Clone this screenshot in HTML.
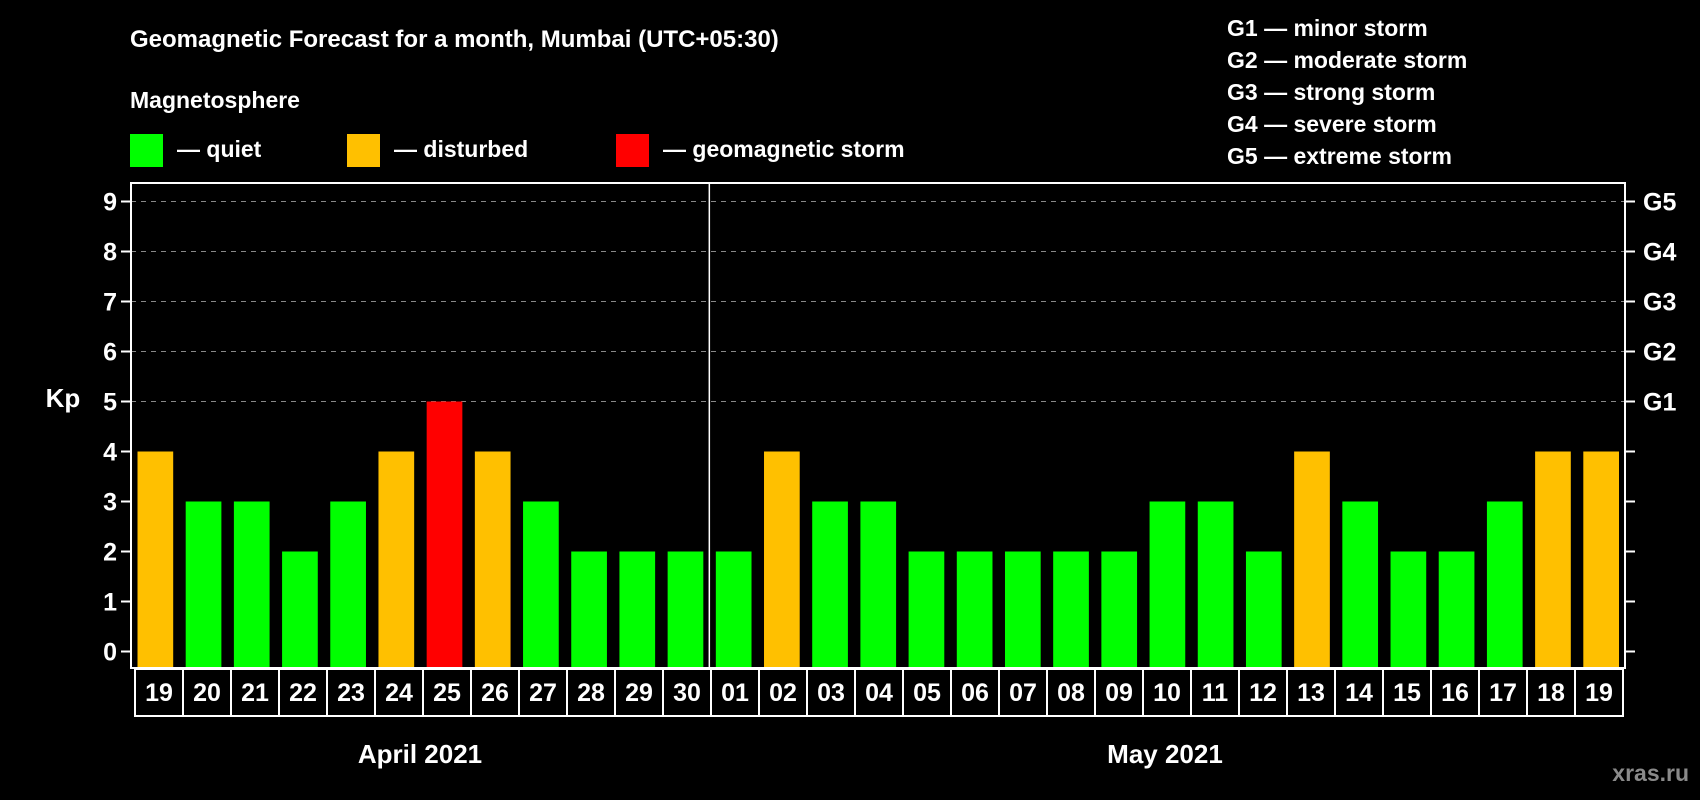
<!DOCTYPE html>
<html><head><meta charset="utf-8"><style>
html,body{margin:0;padding:0;background:#000;}
svg{display:block;font-family:"Liberation Sans",Arial,sans-serif;font-weight:bold;}
</style></head><body>
<svg id="chart" width="1700" height="800" viewBox="0 0 1700 800">
<text x="130" y="47" font-size="24" fill="#fff">Geomagnetic Forecast for a month, Mumbai (UTC+05:30)</text>
<text x="130" y="108" font-size="23" fill="#fff">Magnetosphere</text>
<rect x="130" y="134" width="33" height="33" fill="#00ff00"/>
<text x="177" y="157" font-size="23" fill="#fff">— quiet</text>
<rect x="347" y="134" width="33" height="33" fill="#ffc000"/>
<text x="394" y="157" font-size="23" fill="#fff">— disturbed</text>
<rect x="616" y="134" width="33" height="33" fill="#ff0000"/>
<text x="663" y="157" font-size="23" fill="#fff">— geomagnetic storm</text>
<g font-size="23" fill="#fff">
<text x="1227" y="36">G1 — minor storm</text>
<text x="1227" y="68">G2 — moderate storm</text>
<text x="1227" y="100">G3 — strong storm</text>
<text x="1227" y="132">G4 — severe storm</text>
<text x="1227" y="164">G5 — extreme storm</text>
</g>
<text x="63" y="407" font-size="26" fill="#fff" text-anchor="middle">Kp</text>
<text x="420" y="763" font-size="26" fill="#fff" text-anchor="middle">April 2021</text>
<text x="1165" y="763" font-size="26" fill="#fff" text-anchor="middle">May 2021</text>
<text x="1689" y="781" font-size="23" fill="#8a8a8a" text-anchor="end">xras.ru</text>
<g id="plot"></g>
</svg>
<script>
const days = ["19","20","21","22","23","24","25","26","27","28","29","30","01","02","03","04","05","06","07","08","09","10","11","12","13","14","15","16","17","18","19"];
const kpValues = [4,3,3,2,3,4,5,4,3,2,2,2,2,4,3,3,2,2,2,2,2,3,3,2,4,3,2,2,3,4,4];
const yTicks = [0,1,2,3,4,5,6,7,8,9];
const gLabels = ["G1","G2","G3","G4","G5"];
const L=131,R=1625,T=183,B=668;
const slot=(R-L)/days.length;
function y(v){return 651.5-v*50;}
function x(i){return L+i*slot;}
const NS="http://www.w3.org/2000/svg";
const g=document.getElementById('plot');
function mk(tag,attrs){const e=document.createElementNS(NS,tag);for(const k in attrs)e.setAttribute(k,attrs[k]);g.appendChild(e);return e;}
yTicks.forEach(v=>{
  if(v>=5){const gl=mk('line',{x1:L,x2:R,y1:y(v),y2:y(v),stroke:'#888','stroke-width':1,'stroke-dasharray':'5,5'});
  
  }
  const t1=mk('line',{x1:L-10,x2:L,y1:y(v),y2:y(v),stroke:'#fff','stroke-width':2});
  
  
  const t2=mk('line',{x1:R,x2:R+10,y1:y(v),y2:y(v),stroke:'#fff','stroke-width':2});
  
  
  const tl=mk('text',{x:L-14,y:y(v)+9,'font-size':25,fill:'#fff','text-anchor':'end'});
  tl.textContent=v;
  
  
});
gLabels.forEach((s,i)=>{
  const t=mk('text',{x:R+18,y:y(5+i)+9,'font-size':25,fill:'#fff'});
  t.textContent=s;
  
  
});
kpValues.forEach((v,i)=>{
  const c=v>=5?'#ff0000':(v>=4?'#ffc000':'#00ff00');
  const b=mk('rect',{x:x(i)+6.5,y:y(v),width:slot-12.5,height:B-y(v),fill:c});
  
  
});
const fr=mk('rect',{x:L,y:T,width:R-L,height:B-T,fill:'none',stroke:'#fff','stroke-width':2});


const sep=mk('line',{x1:x(12),x2:x(12),y1:T,y2:B,stroke:'#fff','stroke-width':1.5});


const cw=(1623-135)/days.length;
days.forEach((d,i)=>{
  const r=mk('rect',{x:135+i*cw,y:669,width:cw,height:47,fill:'none',stroke:'#fff','stroke-width':2});
  
  
  const t=mk('text',{x:135+i*cw+cw/2,y:701,'font-size':25,fill:'#fff','text-anchor':'middle'});
  t.textContent=d;
  
  
});
</script>
</body></html>
